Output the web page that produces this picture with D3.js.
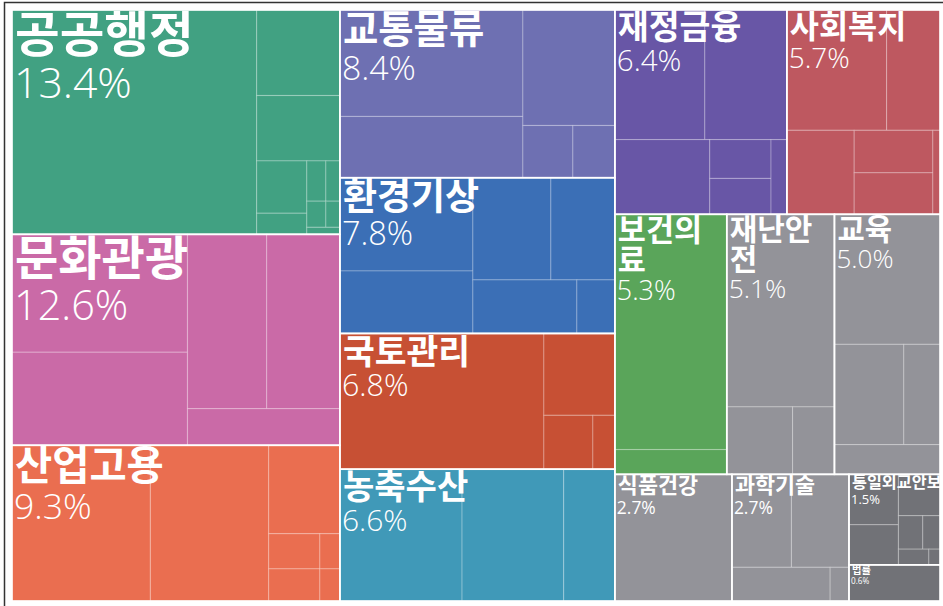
<!DOCTYPE html>
<html>
<head>
<meta charset="utf-8">
<script src="https://cdn.jsdelivr.net/npm/d3@7"></script>
<style>
    body { margin: 0; background: #fff; }
    .name { font-family: "Noto Sans CJK KR", "Noto Sans", sans-serif; font-weight: 700; fill: #fff; }
    .pct { font-family: "Open Sans", Lato, "Noto Sans", sans-serif; font-weight: 300; fill: #fff; }
</style>
</head>
<body>
<div id="chart"></div>
<script>
var width = 943, height = 606
const box = {left: 12, top: 10, right: 940, bottom: 601}

// 분야별 비중 (%)
const categories = ["공공행정", "문화관광", "산업고용", "교통물류", "환경기상", "국토관리", "농축수산", "재정금융",
    "사회복지", "보건의료", "재난안전", "교육", "식품건강", "과학기술", "통일외교안보", "법률"]
const shares = [13.4, 12.6, 9.3, 8.4, 7.8, 6.8, 6.6, 6.4, 5.7, 5.3, 5.1, 5.0, 2.7, 2.7, 1.5, 0.6]
const palette = ["#41a182", "#ca6aa7", "#ea6e50", "#6e70b2", "#3b6fb6", "#c75034", "#4099b8", "#6856a6",
    "#be5860", "#5aa55a", "#939399", "#939399", "#939399", "#939399", "#717277", "#717277"]

// 세부 항목 상대 크기 (분야 안에서의 비율)
const subWeights = [
    [54412, 7055, 5395, 2600, 1050, 760, 560, 494, 364, 231],
    [20825, 16450, 13904, 12848, 5624],
    [21390, 18290, 6248, 1785, 1632, 700, 640],
    [19398, 11163, 10580, 2600, 2184],
    [12502, 8379, 8034, 6592, 5616, 2052],
    [27744, 5822, 2646, 1188],
    [15982, 13300, 6700],
    [11830, 10790, 7200, 2418, 2232, 1200],
    [11880, 6360, 5600, 3311, 3234, 595],
    [26781, 2825],
    [20952, 4488, 2856],
    [13755, 6969, 3636, 3150],
    [1],
    [5460, 5278, 3267, 627],
    [2352, 1872, 1620, 768, 544, 450, 165],
    [1]
]

var svg = d3.select("#chart")
    .append("svg")
    .attr("width", width)
    .attr("height", height)
    .attr("display", "block")

var data = {
    name: "root",
    children: categories.map(function(c, i) {
        var total = d3.sum(subWeights[i])
        return {
            name: c,
            share: shares[i],
            color: palette[i],
            children: subWeights[i].map(function(w) { return {value: shares[i] * w / total} })
        }
    })
}

var root = d3.hierarchy(data)
    .sum(function(d) { return d.value || 0 })
    .sort(function(a, b) { return b.value - a.value })

d3.treemap()
    .tile(d3.treemapSquarify)
    .size([box.right - box.left, box.bottom - box.top])(root)

var groups = root.children

var plot = svg.append("g")
    .attr("transform", "translate(" + box.left + "," + box.top + ")")

var defs = svg.append("defs")
defs.selectAll("clipPath")
    .data(groups)
    .enter()
    .append("clipPath")
    .attr("id", function(d, i) { return "clip" + i })
    .append("rect")
    .attr("x", function(d) { return d.x0 })
    .attr("y", function(d) { return d.y0 - 20 })
    .attr("width", function(d) { return d.x1 - d.x0 })
    .attr("height", function(d) { return d.y1 - d.y0 + 20 })

// leaves
plot.append("g")
    .selectAll("rect")
    .data(root.leaves())
    .enter()
    .append("rect")
    .attr("x", function(d) { return d.x0 })
    .attr("y", function(d) { return d.y0 })
    .attr("width", function(d) { return d.x1 - d.x0 })
    .attr("height", function(d) { return d.y1 - d.y0 })
    .attr("fill", function(d) { return d.parent.data.color })
    .attr("stroke", "rgba(255,255,255,0.22)")
    .attr("stroke-width", 1.2)

// group outlines
plot.append("g")
    .selectAll("rect")
    .data(groups)
    .enter()
    .append("rect")
    .attr("x", function(d) { return d.x0 })
    .attr("y", function(d) { return d.y0 })
    .attr("width", function(d) { return d.x1 - d.x0 })
    .attr("height", function(d) { return d.y1 - d.y0 })
    .attr("fill", "none")
    .attr("stroke", "#fff")
    .attr("stroke-width", 1.6)

// labels
var labels = plot.append("g")
    .selectAll("g")
    .data(groups)
    .enter()
    .append("g")

labels.each(function(d, i) {
    var g = d3.select(this)
    var w = d.x1 - d.x0, h = d.y1 - d.y0
    var fs = 0.179 * Math.sqrt(w * h)
    var cw = fs * 0.92   // 한글 한 글자 폭
    var name = d.data.name
    var lines = [name]
    if (fs > 20 && name.length * cw > w - 6) {
        var per = Math.floor((w - 6) / cw)
        lines = []
        for (var k = 0; k < name.length; k += per) lines.push(name.slice(k, k + per))
    }
    // 넘치는 이름만 칸 안에서 자르기
    if (lines.length == 1 && name.length * cw > w - 4) g.attr("clip-path", "url(#clip" + i + ")")
    var y = d.y0 + fs * 0.87
    lines.forEach(function(l, j) {
        g.append("text")
            .attr("class", "name")
            .attr("x", d.x0 + 3)
            .attr("y", y + j * fs * 0.98)
            .style("font-size", fs + "px")
            .text(l)
    })
    var pfs = fs * (fs < 22 ? 0.8 : 0.88)
    g.append("text")
        .attr("class", "pct")
        .attr("x", d.x0 + 2)
        .attr("y", y + (lines.length - 1) * fs * 0.98 + fs * 0.95)
        .style("font-size", pfs + "px")
        .style("font-weight", fs < 22 ? 400 : 300)
        .text(d3.format(".1f")(d.data.share) + "%")
})

// frame corner
svg.append("path")
    .attr("d", "M4.5," + height + "V2.5H" + width)
    .attr("fill", "none")
    .attr("stroke", "#333")
    .attr("stroke-width", 1.5)
</script>
</body>
</html>
